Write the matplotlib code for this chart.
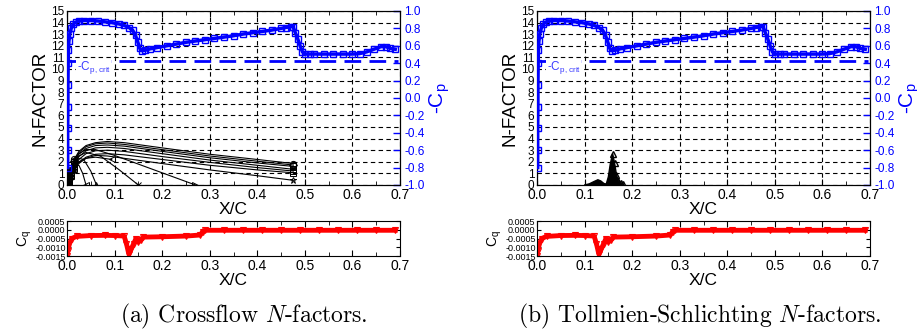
import matplotlib.pyplot as plt
from matplotlib.ticker import MultipleLocator, FormatStrFormatter

plt.rcParams["font.family"] = ["Liberation Sans", "DejaVu Sans"]
plt.rcParams["axes.unicode_minus"] = False
plt.rcParams["mathtext.fontset"] = "cm"

# -Cp distribution (same for both panels)
cp_x = [0.0015, 0.0015, 0.0015, 0.002, 0.002, 0.0025, 0.003, 0.004, 0.006, 0.009,
        0.013, 0.018, 0.025, 0.035, 0.05, 0.065, 0.08, 0.095, 0.11, 0.12,
        0.13, 0.138, 0.144, 0.149, 0.153, 0.158, 0.165, 0.175, 0.19, 0.21,
        0.23, 0.25, 0.27, 0.29, 0.31, 0.33, 0.35, 0.37, 0.39, 0.41,
        0.43, 0.45, 0.46, 0.47, 0.475, 0.48, 0.485, 0.49, 0.495, 0.50,
        0.51, 0.52, 0.54, 0.56, 0.58, 0.60, 0.615, 0.63, 0.645, 0.66,
        0.67, 0.68, 0.69]
neg_cp = [-0.80, -0.60, -0.35, -0.10, 0.15, 0.40, 0.55, 0.65, 0.74, 0.80,
          0.85, 0.87, 0.885, 0.89, 0.89, 0.885, 0.875, 0.865, 0.85, 0.835,
          0.81, 0.78, 0.72, 0.64, 0.57, 0.545, 0.55, 0.565, 0.58, 0.60,
          0.62, 0.64, 0.655, 0.67, 0.685, 0.70, 0.715, 0.735, 0.75, 0.765,
          0.78, 0.80, 0.81, 0.82, 0.82, 0.75, 0.68, 0.60, 0.53, 0.505,
          0.505, 0.505, 0.505, 0.505, 0.505, 0.505, 0.51, 0.53, 0.56, 0.59,
          0.59, 0.57, 0.56]
cp_crit = 0.42

# suction coefficient
cq_x = [0.0, 0.002, 0.005, 0.01, 0.02, 0.05, 0.08, 0.1, 0.12, 0.125,
        0.13, 0.135, 0.14, 0.145, 0.15, 0.155, 0.16, 0.2, 0.25, 0.28,
        0.285, 0.29, 0.33, 0.37, 0.41, 0.45, 0.49, 0.53, 0.57, 0.61,
        0.65, 0.69]
cq = [-0.0015, -0.0012, -0.0008, -0.0005, -0.00038, -0.00033, -0.00032, -0.00033, -0.00036, -0.0008,
      -0.0014, -0.0011, -0.0008, -0.0005, -0.0007, -0.0006, -0.00042, -0.0004, -0.00036, -0.0003,
      -0.00012, -0.00003, -0.00003, -0.00003, -0.00003, -0.00003, -0.00003, -0.00003, -0.00003, -0.00003,
      -0.00003, -0.00003]

# crossflow N-factor curves
cf_x = [0.0, 0.004, 0.008, 0.015, 0.025, 0.04, 0.06, 0.085, 0.12, 0.2, 0.3, 0.4, 0.476]
cf_n1 = [0, 0.6, 1.3, 2.2, 2.9, 3.4, 3.65, 3.75, 3.65, 3.2, 2.65, 2.2, 1.85]
cf_n2 = [0, 0.5, 1.2, 2.1, 2.8, 3.3, 3.55, 3.62, 3.5, 3.05, 2.5, 2.05, 1.72]
cf_n3 = [0, 0.5, 1.1, 2.0, 2.65, 3.15, 3.4, 3.45, 3.35, 2.9, 2.35, 1.9, 1.6]
cf_n4 = [0, 0.4, 1.0, 1.8, 2.45, 2.95, 3.2, 3.25, 3.15, 2.7, 2.15, 1.7, 1.35]
cf_n5 = [0, 0.35, 0.9, 1.6, 2.2, 2.7, 2.95, 3.0, 2.9, 2.45, 1.95, 1.5, 1.2]
cf_n6 = [0, 0.3, 0.8, 1.4, 1.95, 2.4, 2.65, 2.7, 2.6, 2.2, 1.7, 1.3, 1.05]
cf_n7 = [0, 0.3, 0.75, 1.3, 1.85, 2.3, 2.55, 2.5, 2.3, 1.85, 1.3, 0.8, 0.4]
cf_x8 = [0.0, 0.004, 0.008, 0.015, 0.025, 0.04, 0.06, 0.1, 0.2, 0.27]
cf_n8 = [0, 0.6, 1.3, 2.1, 2.7, 3.05, 3.05, 2.55, 1.05, 0.0]
cf_x9 = [0.0, 0.004, 0.008, 0.015, 0.025, 0.04, 0.07, 0.11, 0.15]
cf_n9 = [0, 0.5, 1.2, 1.9, 2.5, 2.8, 2.5, 1.3, 0.0]
cf_x10 = [0.0, 0.004, 0.008, 0.015, 0.025, 0.04, 0.06, 0.094]
cf_n10 = [0, 0.4, 0.9, 1.5, 2.0, 2.3, 2.4, 2.2]
cf_x11 = [0.0, 0.004, 0.008, 0.015, 0.025, 0.035, 0.05, 0.062]
cf_n11 = [0, 0.5, 1.1, 1.8, 2.3, 2.2, 1.2, 0.0]
cf_x12 = [0.0, 0.004, 0.008, 0.015, 0.025, 0.033, 0.04]
cf_n12 = [0, 0.5, 1.0, 1.6, 1.7, 1.0, 0.0]

# Tollmien-Schlichting N-factors (two small lobes)
ts_bump_x = [0.10, 0.11, 0.12, 0.128, 0.134, 0.14, 0.145]
ts_bump_n = [0.0, 0.1, 0.3, 0.45, 0.35, 0.15, 0.05]
ts_spike_x = [0.145, 0.15, 0.154, 0.159, 0.163, 0.167, 0.171, 0.176, 0.181]
ts_spike_n = [0.0, 0.7, 1.8, 2.7, 1.9, 0.9, 0.35, 0.2, 0.1]

captions = ["(a) Crossflow $N$-factors.", "(b) Tollmien-Schlichting $N$-factors."]

W, H = 917, 332
fig = plt.figure(figsize=(W / 100, H / 100), dpi=100)


def style_x(ax):
    ax.set_xlim(0, 0.7)
    ax.xaxis.set_major_locator(MultipleLocator(0.1))
    ax.xaxis.set_minor_locator(MultipleLocator(0.05))
    ax.xaxis.set_major_formatter(FormatStrFormatter("%.1f"))
    ax.tick_params(axis="x", which="both", direction="in", top=True, labelsize=10, pad=2)
    ax.tick_params(axis="x", which="major", length=4)
    ax.tick_params(axis="x", which="minor", length=3)
    ax.set_xlabel("X/C", fontsize=12.5, labelpad=0)


def draw_panel(x0, crossflow, caption, cap_x):
    ax = fig.add_axes([x0 / W, 0.4428, 333 / W, 0.5241])
    ax.set_ylim(0, 15)
    ax.yaxis.set_major_locator(MultipleLocator(1))
    ax.tick_params(axis="y", direction="in", length=0, labelsize=8.5, pad=2)
    style_x(ax)
    ax.grid(True, color="black", linestyle=(0, (4, 3)), linewidth=0.8)
    ax.set_ylabel("N-FACTOR", fontsize=13.5, labelpad=2)

    if crossflow:
        lines = [(cf_x, cf_n1, "o"), (cf_x, cf_n2, "D"), (cf_x, cf_n3, "s"),
                 (cf_x, cf_n4, "s"), (cf_x, cf_n5, "s"), (cf_x, cf_n6, "s"),
                 (cf_x, cf_n7, "*"), (cf_x8, cf_n8, ">"), (cf_x9, cf_n9, "x"),
                 (cf_x10, cf_n10, "<"), (cf_x11, cf_n11, "^"), (cf_x12, cf_n12, "<")]
        for xs, ns, m in lines:
            n = len(xs)
            ax.plot(xs, ns, color="black", linewidth=0.8, marker=m, markersize=4.5,
                    markerfacecolor="none", markeredgewidth=0.7,
                    markevery=[0, 1, 2, 3, n - 1])
    else:
        ax.fill(ts_bump_x, ts_bump_n, color="black")
        ax.fill(ts_spike_x, ts_spike_n, color="black")
        ax.plot(ts_spike_x[3:], ts_spike_n[3:], color="black", marker="^",
                markersize=4, linestyle="none", markerfacecolor="none")

    ax2 = ax.twinx()
    ax2.set_ylim(-1, 1)
    ax2.yaxis.set_major_locator(MultipleLocator(0.2))
    ax2.yaxis.set_major_formatter(FormatStrFormatter("%.1f"))
    ax2.tick_params(axis="y", direction="in", length=5, width=1, colors="blue",
                    labelsize=8.5, pad=3)
    ax2.spines["right"].set_color("black")
    ax2.plot(cp_x, neg_cp, color="blue", linewidth=2.5, marker="s", markersize=5,
             markerfacecolor="none", markeredgewidth=1, zorder=3)
    ax2.plot([0.004, 0.695], [cp_crit, cp_crit], color="blue", linewidth=2,
             linestyle=(0, (6, 3)))
    ax2.text(0.02, 0.345, r"-C$_\mathregular{p,crit}$", color="#3c3cff",
             fontsize=8.5, va="center", zorder=6,
             bbox=dict(facecolor="white", edgecolor="none", pad=0.3))
    ax2.set_ylabel(r"-C$_\mathregular{p}$", color="blue", fontsize=15, rotation=90,
                   labelpad=2)

    axq = fig.add_axes([x0 / W, 0.2289, 333 / W, 0.1054])
    axq.set_ylim(-0.0015, 0.0005)
    axq.yaxis.set_major_locator(MultipleLocator(0.0005))
    axq.yaxis.set_major_formatter(FormatStrFormatter("%.4f"))
    axq.tick_params(axis="y", direction="in", right=True, length=3, labelsize=6.5, pad=1)
    style_x(axq)
    axq.plot(cq_x, cq, color="red", linewidth=3.5, marker="v", markersize=5,
             markerfacecolor="none", markeredgewidth=0.8)
    axq.set_ylabel(r"C$_\mathregular{q}$", fontsize=10, labelpad=1)

    fig.text(cap_x / W, 16 / H, caption, family="cmr10", fontsize=17,
             ha="center", va="center")


draw_panel(67, True, captions[0], 244)
draw_panel(537, False, captions[1], 700)

fig.savefig("out.png", dpi=100)
